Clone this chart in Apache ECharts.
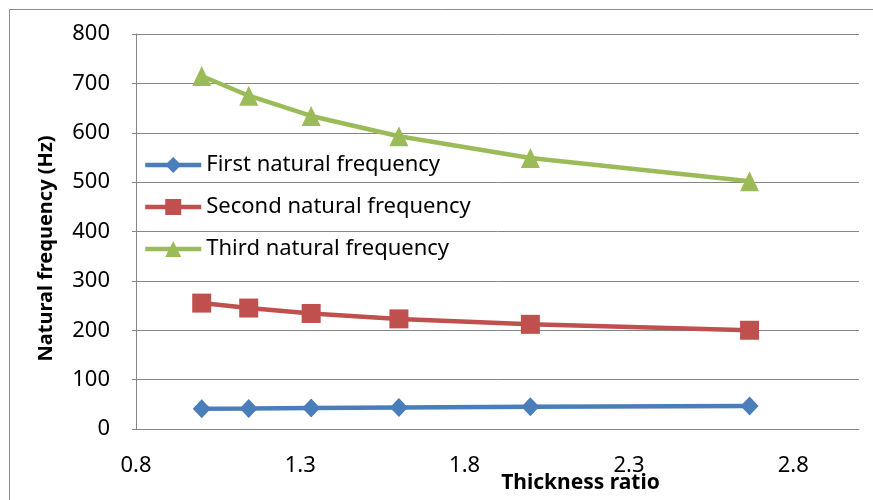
<!DOCTYPE html>
<html>
<head>
<meta charset="utf-8">
<script src="https://cdn.jsdelivr.net/npm/echarts@6/dist/echarts.min.js"></script>
<style>html,body{margin:0;padding:0;background:#fff}#c{width:873px;height:500px}</style>
</head>
<body>
<div id="c"></div>
<script>
const thicknessRatio = [1.0, 1.143, 1.333, 1.6, 2.0, 2.667];
const firstFreq = [41, 41.5, 42.5, 43.5, 45, 46.5];
const secondFreq = [255, 245, 234, 223, 212, 200];
const thirdFreq = [715, 675, 634, 593, 549, 502];
const xTickLabels = [0.8, 1.3, 1.8, 2.3, 2.8];
const seriesNames = ['First natural frequency', 'Second natural frequency', 'Third natural frequency'];

const FONT = 'Noto Sans';
const pairs = (ys) => thicknessRatio.map((x, i) => [x, ys[i]]);

const chart = echarts.init(document.getElementById('c'), null, {renderer: 'canvas'});
chart.setOption({
  animation: false,
  backgroundColor: '#fff',
  graphic: [{
    type: 'rect', shape: {x: 9.5, y: 9.5, width: 900, height: 600},
    style: {fill: 'none', stroke: '#8c8c8c', lineWidth: 1}, silent: true
  }],
  grid: {left: 136, top: 34, right: 14, bottom: 71, containLabel: false, outerBoundsMode: 'none'},
  legend: {
    orient: 'vertical', left: 138, top: 147,
    itemWidth: 56, itemHeight: 20, itemGap: 16,
    lineStyle: {width: 4.5},
    textStyle: {fontFamily: FONT, fontSize: 22, color: '#000', lineHeight: 26},
    data: seriesNames
  },
  xAxis: {
    type: 'value', min: 0.8, max: 3.0,
    axisLine: {show: true, lineStyle: {color: '#868686', width: 1}},
    axisTick: {show: false},
    splitLine: {show: false},
    axisLabel: {
      customValues: xTickLabels, margin: 26,
      fontFamily: FONT, fontSize: 22, color: '#000',
      formatter: (v) => v.toFixed(1)
    },
    name: 'Thickness ratio', nameLocation: 'middle', nameGap: 44, nameMoveOverlap: false,
    nameTextStyle: {fontFamily: FONT, fontSize: 21, fontWeight: 'bold', color: '#000', padding: [0, 0, 0, 166]}
  },
  yAxis: {
    type: 'value', min: 0, max: 800, interval: 100,
    axisLine: {show: true, lineStyle: {color: '#868686', width: 1}},
    axisTick: {show: true, length: 4, lineStyle: {color: '#868686'}},
    splitLine: {show: true, lineStyle: {color: '#868686', width: 1}},
    axisLabel: {margin: 26, fontFamily: FONT, fontSize: 22, color: '#000'},
    name: 'Natural frequency (Hz)', nameLocation: 'middle', nameGap: 80, nameMoveOverlap: false,
    nameTextStyle: {fontFamily: FONT, fontSize: 20, fontWeight: 'bold', color: '#000', padding: [0, 34, 0, 0]}
  },
  series: [
    {name: seriesNames[0], type: 'line', data: pairs(firstFreq), symbol: 'diamond', symbolSize: [18, 19],
     lineStyle: {width: 4.5, color: '#4a7ebb'}, itemStyle: {color: '#4a7ebb'}, color: '#4a7ebb'},
    {name: seriesNames[1], type: 'line', data: pairs(secondFreq), symbol: 'rect', symbolSize: 19,
     lineStyle: {width: 4.5, color: '#c0504d'}, itemStyle: {color: '#c0504d'}, color: '#c0504d'},
    {name: seriesNames[2], type: 'line', data: pairs(thirdFreq), symbol: 'triangle', symbolSize: [19, 20],
     lineStyle: {width: 4.5, color: '#9bbb59'}, itemStyle: {color: '#9bbb59'}, color: '#9bbb59'}
  ]
});
</script>
</body>
</html>
